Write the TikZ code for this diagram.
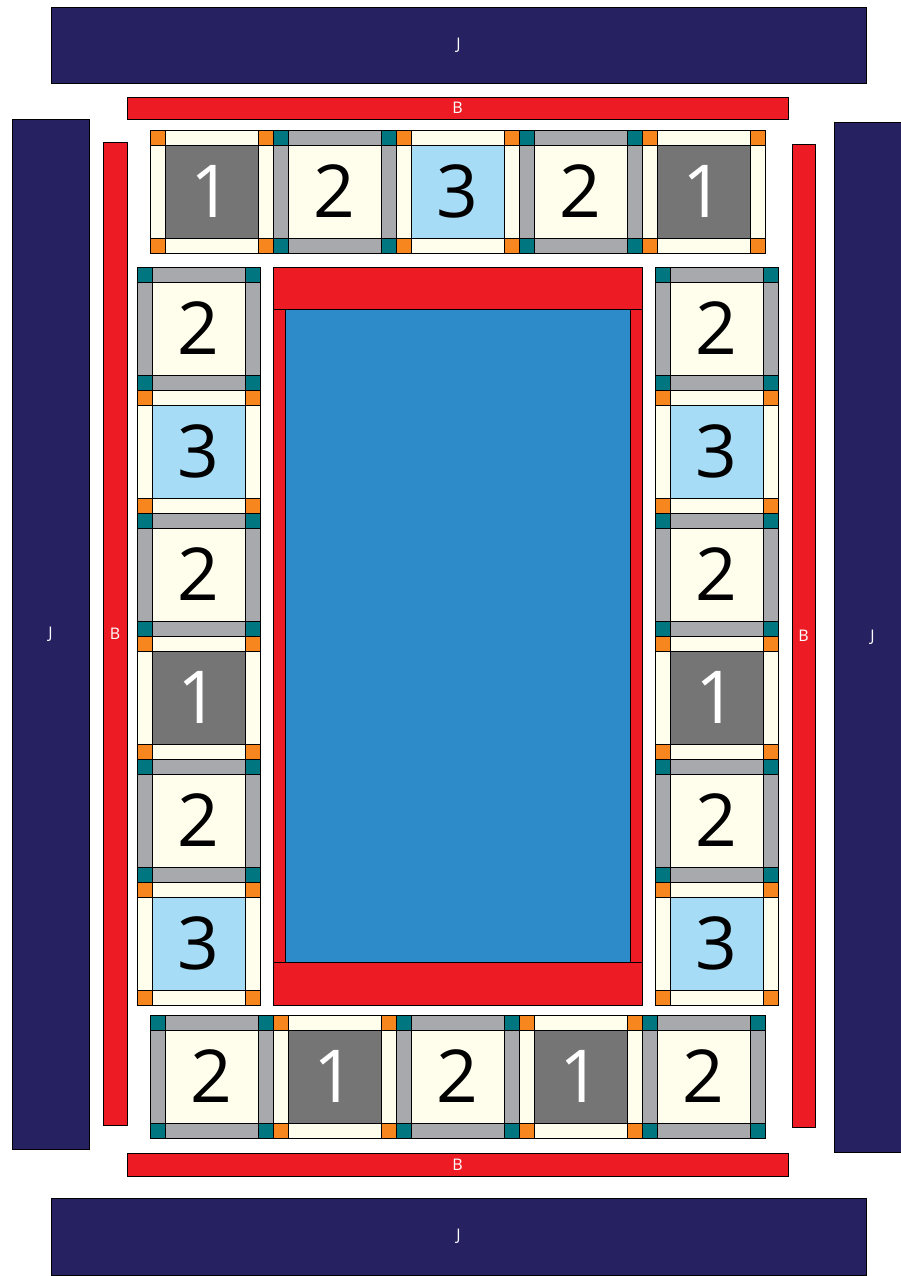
\documentclass[tikz,border=0pt]{standalone}
\usepackage{fontspec}
\setmainfont{Open Sans}
\definecolor{jnavy}{HTML}{262262}
\definecolor{bred}{HTML}{ED1C24}
\definecolor{pool}{HTML}{2E8BCA}
\definecolor{qcream}{HTML}{FFFDEC}
\definecolor{qgray}{HTML}{A7A9AC}
\definecolor{qteal}{HTML}{007780}
\definecolor{qorange}{HTML}{F7861E}
\definecolor{qdark}{HTML}{757576}
\definecolor{qsky}{HTML}{A6DCF6}
\tikzset{
  piece/.style={draw=black,line width=0.8pt},
  digit/.style={font=\fontsize{73}{73}\selectfont,inner sep=0pt},
  barlabel/.style={draw=black,line width=0.8pt,text=white,inner sep=0pt,
    font=\fontsize{16}{16}\selectfont},
  jbar/.style={barlabel,fill=jnavy},
  bbar/.style={barlabel,fill=bred}
}
% one block: x, y, strip, corner, centre, digit colour, digit
\newcommand{\qblock}[7]{%
  \begin{scope}[shift={(#1,#2)}]
    \filldraw[piece,fill=#3] (15,0) rectangle (108,15);
    \filldraw[piece,fill=#3] (15,108) rectangle (108,123);
    \filldraw[piece,fill=#3] (0,15) rectangle (15,108);
    \filldraw[piece,fill=#3] (108,15) rectangle (123,108);
    \foreach \cx/\cy in {0/0,108/0,0/108,108/108}
      \filldraw[piece,fill=#4] (\cx,\cy) rectangle ++(15,15);
    \filldraw[piece,fill=#5] (15,15) rectangle (108,108);
    \node[digit,text=#6] (q#1-#2) at (61.5,61.5) {#7};
  \end{scope}}
\newcommand{\blkone}[2]{\qblock{#1}{#2}{qcream}{qorange}{qdark}{white}{1}}
\newcommand{\blktwo}[2]{\qblock{#1}{#2}{qgray}{qteal}{qcream}{black}{2}}
\newcommand{\blkthree}[2]{\qblock{#1}{#2}{qcream}{qorange}{qsky}{black}{3}}
\begin{document}
\begin{tikzpicture}[x=1pt,y=-1pt]
\useasboundingbox (0,0) rectangle (901,1276);
\clip (0,0) rectangle (901,1276);
% outer borders J
\node[jbar,minimum width=815pt,minimum height=76pt] (jtop) at (458.5,45) {J};
\node[jbar,minimum width=815pt,minimum height=77pt] (jbot) at (458.5,1236.5) {J};
\node[jbar,minimum width=77pt,minimum height=1030pt] (jleft) at (50.5,634) {J};
\node[jbar,minimum width=77pt,minimum height=1030pt] (jright) at (872.5,637) {J};
% inner borders B
\node[bbar,minimum width=661pt,minimum height=22pt] (btop) at (457.5,108) {B};
\node[bbar,minimum width=661pt,minimum height=23pt] (bbot) at (457.5,1164.5) {B};
\node[bbar,minimum width=24pt,minimum height=983pt] (bleft) at (115,633.5) {B};
\node[bbar,minimum width=23pt,minimum height=983pt] (bright) at (803.5,635.5) {B};
% centre panel
\filldraw[piece,fill=bred] (273,267) rectangle (642,1005);
\filldraw[piece,fill=pool] (285,309) rectangle (630,962);
\draw[piece] (273,309) -- (642,309) (273,962) -- (642,962);
% block rows
\foreach \bx/\bk in {150/\blkone,273/\blktwo,396/\blkthree,519/\blktwo,642/\blkone}
  {\bk{\bx}{130}}
\foreach \bx/\bk in {150/\blktwo,273/\blkone,396/\blktwo,519/\blkone,642/\blktwo}
  {\bk{\bx}{1015}}
% block columns
\foreach \by/\bk in {267/\blktwo,390/\blkthree,513/\blktwo,636/\blkone,759/\blktwo,882/\blkthree}
  {\bk{137}{\by}\bk{655}{\by}}
\end{tikzpicture}
\end{document}
